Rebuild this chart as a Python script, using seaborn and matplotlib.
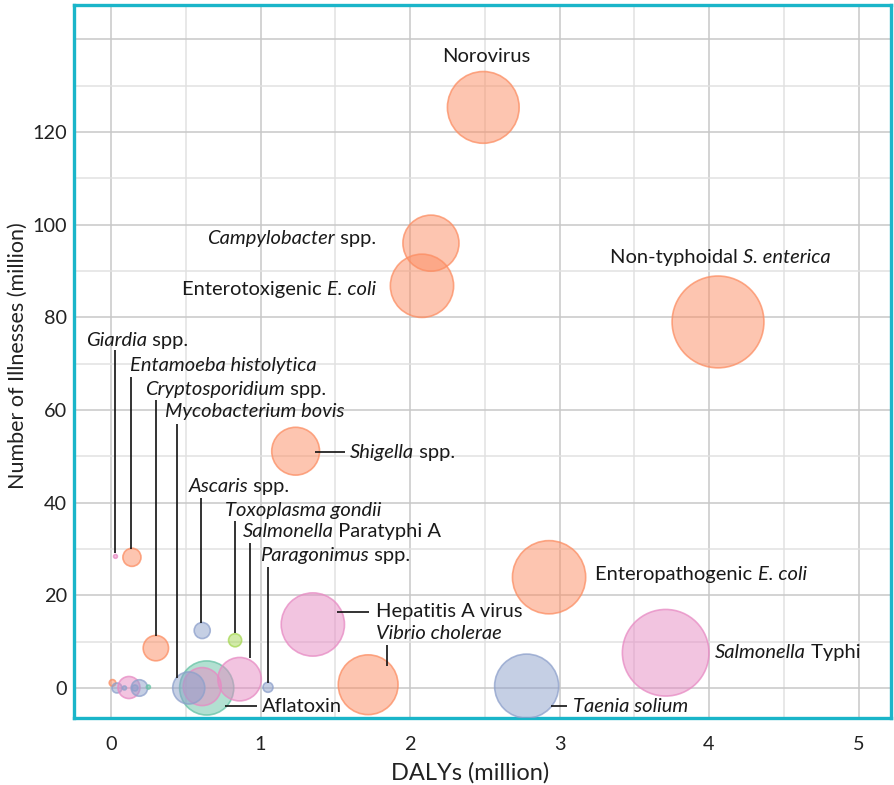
import numpy as np
import pandas as pd
import matplotlib
matplotlib.use("Agg")
import matplotlib.pyplot as plt
from matplotlib.ticker import MultipleLocator
import seaborn as sns

# ---------------- data ----------------
hazards = ["Norovirus", "Campylobacter", "ETEC", "NTS", "Shigella", "EPEC",
           "S. Typhi", "Hepatitis A", "Vibrio cholerae", "Taenia solium",
           "Aflatoxin", "Mycobacterium bovis", "Clonorchis", "S. Paratyphi A",
           "Paragonimus", "Ascaris", "Toxoplasma", "Cryptosporidium",
           "Entamoeba", "Giardia", "STEC", "Fasciola", "Listeria",
           "Opisthorchis", "Echinococcus granulosus", "Trichinella", "Dioxin"]
dalys = [2.49, 2.14, 2.08, 4.06, 1.235, 2.93,
         3.71, 1.35, 1.72, 2.78,
         0.64, 0.61, 0.52, 0.86,
         1.05, 0.61, 0.83, 0.30,
         0.14, 0.03, 0.01, 0.04, 0.12,
         0.09, 0.19, 0.16, 0.25]
illnesses = [125.3, 96.0, 86.8, 79.0, 51.1, 23.9,
             7.6, 13.7, 0.7, 0.4,
             0.0, 0.3, 0.0, 1.9,
             0.15, 12.4, 10.3, 8.6,
             28.2, 28.4, 1.1, 0.0, 0.1,
             0.0, 0.0, 0.0, 0.2]
deaths = [36.0, 22.0, 28.0, 59.0, 16.0, 37.5,
          52.5, 28.0, 25.0, 28.7,
          20.5, 10.1, 7.2, 13.2,
          0.7, 1.8, 1.2, 4.5,
          2.3, 0.1, 0.3, 0.7, 3.4,
          0.11, 1.9, 0.25, 0.11]
groups = ["Diarrhoeal", "Diarrhoeal", "Diarrhoeal", "Diarrhoeal", "Diarrhoeal", "Diarrhoeal",
          "Invasive", "Invasive", "Diarrhoeal", "Helminth",
          "Chemical", "Invasive", "Helminth", "Invasive",
          "Helminth", "Helminth", "Protozoa", "Diarrhoeal",
          "Diarrhoeal", "Invasive", "Diarrhoeal", "Helminth", "Invasive",
          "Helminth", "Helminth", "Helminth", "Chemical"]

df = pd.DataFrame({"hazard": hazards, "dalys": dalys, "illnesses": illnesses,
                   "deaths": deaths, "group": groups})

palette = {"Diarrhoeal": "#fc8d62", "Invasive": "#e78ac3", "Helminth": "#8da0cb",
           "Chemical": "#66c2a5", "Protozoa": "#a6d854"}

# labels: (segments, x, y, ha) segments = list of (text, italic)
labels = [
    ([("Norovirus", False)], 2.51, 136.2, "center"),
    ([("Campylobacter", True), (" spp.", False)], 1.77, 96.9, "right"),
    ([("Enterotoxigenic ", False), ("E. coli", True)], 1.77, 85.9, "right"),
    ([("Non-typhoidal ", False), ("S. enterica", True)], 3.34, 92.8, "left"),
    ([("Shigella", True), (" spp.", False)], 1.60, 50.9, "left"),
    ([("Giardia", True), (" spp.", False)], -0.167, 75.1, "left"),
    ([("Entamoeba histolytica", True)], 0.127, 69.5, "left"),
    ([("Cryptosporidium", True), (" spp.", False)], 0.227, 64.5, "left"),
    ([("Mycobacterium bovis", True)], 0.36, 59.6, "left"),
    ([("Ascaris", True), (" spp.", False)], 0.52, 43.4, "left"),
    ([("Toxoplasma gondii", True)], 0.76, 38.2, "left"),
    ([("Salmonella", True), (" Paratyphi A", False)], 0.88, 33.7, "left"),
    ([("Paragonimus", True), (" spp.", False)], 1.00, 28.5, "left"),
    ([("Hepatitis A virus", False)], 1.77, 16.4, "left"),
    ([("Vibrio cholerae", True)], 1.77, 11.7, "left"),
    ([("Enteropathogenic ", False), ("E. coli", True)], 3.24, 24.4, "left"),
    ([("Salmonella", True), (" Typhi", False)], 4.04, 7.6, "left"),
    ([("Taenia solium", True)], 3.09, -3.9, "left"),
    ([("Aflatoxin", False)], 1.01, -3.9, "left"),
]

# leader lines ((x0, x1), (y0, y1))
leaders = [
    ((0.027, 0.027), (73.0, 29.1)),
    ((0.134, 0.134), (67.1, 30.0)),
    ((0.301, 0.301), (62.2, 11.2)),
    ((0.441, 0.441), (57.0, 2.2)),
    ((0.602, 0.602), (41.0, 14.0)),
    ((0.830, 0.830), (36.0, 11.9)),
    ((0.930, 0.930), (31.3, 6.5)),
    ((1.050, 1.050), (26.1, 1.1)),
    ((1.846, 1.846), (9.3, 4.7)),
    ((1.365, 1.565), (50.9, 50.9)),
    ((1.512, 1.726), (16.4, 16.4)),
    ((2.943, 3.050), (-3.9, -3.9)),
    ((0.763, 0.977), (-3.9, -3.9)),
]

xticks = [0, 1, 2, 3, 4, 5]
yticks = [0, 20, 40, 60, 80, 100, 120, 140]
ytick_labels = ["0", "20", "40", "60", "80", "100", "120", ""]

# ---------------- style ----------------
sns.set_style("white")
plt.rcParams["font.family"] = ["Lato", "DejaVu Sans"]
FS = 14.5

fig = plt.figure(figsize=(8.94, 7.85), dpi=100)
ax = fig.add_axes([74 / 894, 1 - 718 / 785, (891 - 74) / 894, (718 - 5) / 785])

sns.scatterplot(data=df, x="dalys", y="illnesses", hue="group", size="deaths",
                palette=palette, sizes=(0, 74.1 * 60), size_norm=(0, 60),
                legend=False, ax=ax, linewidth=1.2, zorder=3)
coll = ax.collections[0]
fc = np.array(coll.get_facecolor())
fc[:, 3] = 0.5
ec = fc.copy()
ec[:, 3] = 0.75
coll.set_facecolor(fc)
coll.set_edgecolor(ec)

ax.set_xlim(-0.2475, 5.217)
ax.set_ylim(-6.48, 147.4)
ax.set_xticks(xticks)
ax.set_yticks(yticks)
ax.set_yticklabels(ytick_labels)
ax.xaxis.set_minor_locator(MultipleLocator(0.5))
ax.yaxis.set_minor_locator(MultipleLocator(10))
ax.grid(which="major", color="#c8c8c8", lw=1.1)
ax.grid(which="minor", color="#e1e1e1", lw=1.1)
ax.set_axisbelow(True)
ax.tick_params(which="both", length=0, labelsize=14.3, colors="#222222")
ax.tick_params(axis="x", pad=13)
ax.tick_params(axis="y", pad=5)
for sp in ax.spines.values():
    sp.set_color("#1ab5c9")
    sp.set_linewidth(2.4)
    sp.set_visible(True)

ax.set_xlabel("DALYs (million)", fontsize=17, color="#222222")
ax.xaxis.set_label_coords(0.485, -0.062)
ax.set_ylabel("Number of Illnesses (million)", fontsize=15.5, color="#222222")
ax.yaxis.set_label_coords(-0.056, 0.508)

# leader lines
for (xs, ys) in leaders:
    ax.plot(xs, ys, color="#111111", lw=1.2, zorder=4, solid_capstyle="butt")


def seg_label(segs, x, y, ha):
    st = lambda it: "italic" if it else "normal"
    kw = dict(fontsize=FS, color="#1a1a1a", zorder=5)
    if ha == "right":
        t = ax.text(x, y, segs[-1][0], style=st(segs[-1][1]), ha="right", va="center", **kw)
        for s, it in reversed(segs[:-1]):
            t = ax.annotate(s, xy=(0, 0), xycoords=t, ha="right", va="bottom", style=st(it), **kw)
    elif ha == "center" and len(segs) == 1:
        ax.text(x, y, segs[0][0], style=st(segs[0][1]), ha="center", va="center", **kw)
    else:
        t = ax.text(x, y, segs[0][0], style=st(segs[0][1]), ha="left", va="center", **kw)
        for s, it in segs[1:]:
            t = ax.annotate(s, xy=(1, 0), xycoords=t, ha="left", va="bottom", style=st(it), **kw)


for segs, x, y, ha in labels:
    seg_label(segs, x, y, ha)

fig.savefig("out.png", dpi=100)
